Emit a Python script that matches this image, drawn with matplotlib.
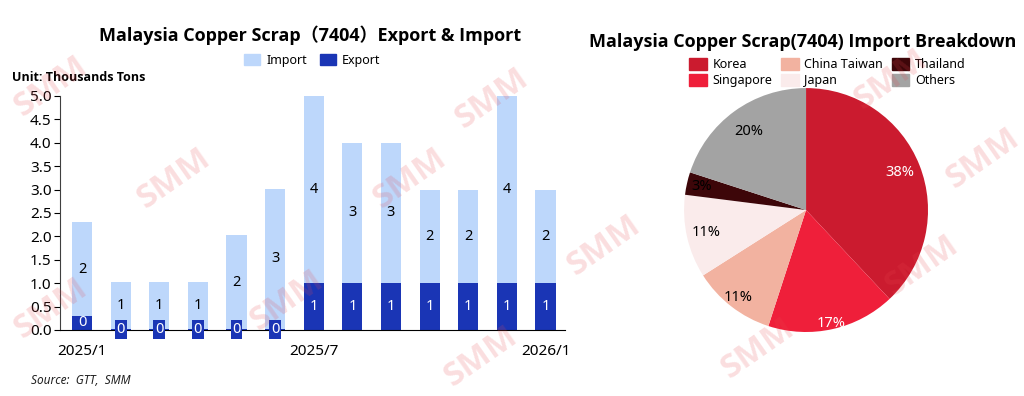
import numpy as np
import matplotlib.pyplot as plt
from matplotlib.patches import Patch

plt.rcParams['font.family'] = ['Noto Sans', 'Noto Sans CJK SC', 'DejaVu Sans']
BOLD = ['Open Sans', 'Noto Sans CJK SC', 'DejaVu Sans']

# Bar chart data (thousand tons)
months = ['2025/1', '2025/2', '2025/3', '2025/4', '2025/5', '2025/6', '2025/7',
          '2025/8', '2025/9', '2025/10', '2025/11', '2025/12', '2026/1']
export = [0.3, 0.02, 0.02, 0.02, 0.02, 0.02, 1.0, 1.0, 1.0, 1.0, 1.0, 1.0, 1.0]
imports = [2.0, 1.0, 1.0, 1.0, 2.0, 3.0, 4.0, 3.0, 3.0, 2.0, 2.0, 4.0, 2.0]
shown_ticks = ['2025/1', '2025/7', '2026/1']

# Pie data (share of imports)
countries = ['Korea', 'Singapore', 'China Taiwan', 'Japan', 'Thailand', 'Others']
shares = [38, 17, 11, 11, 3, 20]

c_import = '#BDD7FB'
c_export = '#1A35B5'
pie_colors = ['#CB1B2F', '#EF1F3A', '#F2B2A0', '#FAEBEB', '#3D0609', '#A3A3A3']

fig = plt.figure(figsize=(10.24, 3.96), dpi=100)

# ---- left: stacked bars
ax = fig.add_axes([0.0586, 0.1667, 0.493, 0.591])
x = np.arange(len(months))
ax.bar(x, export, width=0.52, color=c_export, zorder=2)
ax.bar(x, imports, width=0.52, bottom=export, color=c_import, zorder=2)

for i in range(len(months)):
    ax.text(x[i], export[i] + imports[i] / 2, f'{imports[i]:.0f}',
            ha='center', va='center', fontsize=10.5, color='black', zorder=4)
    box = None
    if export[i] < 0.2:
        box = dict(boxstyle='square,pad=0.12', fc=c_export, ec='none')
    ax.text(x[i], export[i] / 2, f'{export[i]:.0f}', ha='center', va='center',
            fontsize=10.5, color='white', bbox=box, zorder=4)

ax.set_xlim(-0.57, 12.5)
ax.set_ylim(0, 5)
ax.set_yticks(np.arange(0, 5.01, 0.5))
ax.set_yticklabels([f'{v:.1f}' for v in np.arange(0, 5.01, 0.5)], fontsize=11)
ax.set_xticks([months.index(m) for m in shown_ticks])
ax.set_xticklabels(shown_ticks, fontsize=11)
ax.tick_params(axis='x', length=0, pad=10)
ax.tick_params(axis='y', length=4, width=0.8, pad=2)
ax.spines['top'].set_visible(False)
ax.spines['right'].set_visible(False)
ax.spines['left'].set_color('#404040')
ax.spines['bottom'].set_color('black')

fig.text(0.303, 0.912, 'Malaysia Copper Scrap（7404）Export & Import',
         ha='center', va='center', fontsize=13, fontweight='bold', family=BOLD)
fig.text(0.012, 0.805, 'Unit: Thousands Tons', ha='left', va='center',
         fontsize=9, fontweight='bold', family=BOLD)
fig.text(0.03, 0.04, 'Source:  GTT,  SMM', ha='left', va='center',
         fontsize=8.5, style='italic', color='#222222')
fig.legend(handles=[Patch(color=c_import, label='Import'),
                    Patch(color=c_export, label='Export')],
           loc='center', bbox_to_anchor=(0.305, 0.848), ncol=2, frameon=False,
           fontsize=9, handlelength=1.3, handleheight=1.0, handletextpad=0.5,
           columnspacing=1.0)

# ---- right: pie
pax = fig.add_axes([0.668, 0.1616, 0.2383, 0.616])
wedges, _ = pax.pie(shares, colors=pie_colors, startangle=90, counterclock=False,
                    radius=1.0)
dist = [0.83, 0.95, 0.91, 0.84, 0.88, 0.8]
txt_colors = ['white', 'white', 'black', 'black', 'black', 'black']
for w, s, d, tc in zip(wedges, shares, dist, txt_colors):
    ang = np.deg2rad((w.theta1 + w.theta2) / 2)
    pax.text(d * np.cos(ang), d * np.sin(ang), f'{s}%', ha='center', va='center',
             fontsize=10.5, color=tc)
pax.set_xlim(-1, 1)
pax.set_ylim(-1, 1)
pax.set_aspect('equal')

fig.text(0.784, 0.893, 'Malaysia Copper Scrap(7404) Import Breakdown',
         ha='center', va='center', fontsize=13, fontweight='bold', family=BOLD)
fig.legend(handles=[Patch(color=c, label=n) for c, n in zip(pie_colors, countries)],
           loc='center', bbox_to_anchor=(0.808, 0.817), ncol=3, frameon=False,
           fontsize=9, handlelength=1.4, handleheight=1.1, handletextpad=0.45,
           columnspacing=0.7, labelspacing=0.2)

# watermarks
marks = [(0.05, 0.78), (0.17, 0.55), (0.28, 0.24), (0.48, 0.75), (0.59, 0.38),
         (0.47, 0.1), (0.87, 0.8), (0.9, 0.33), (0.74, 0.12), (0.05, 0.22),
         (0.96, 0.6), (0.4, 0.55)]
for mx, my in marks:
    fig.text(mx, my, 'SMM', ha='center', va='center', fontsize=24,
             fontweight='bold', color='#E8484F', alpha=0.18, rotation=35,
             family=BOLD, zorder=10)

fig.savefig('out.png', dpi=100)
